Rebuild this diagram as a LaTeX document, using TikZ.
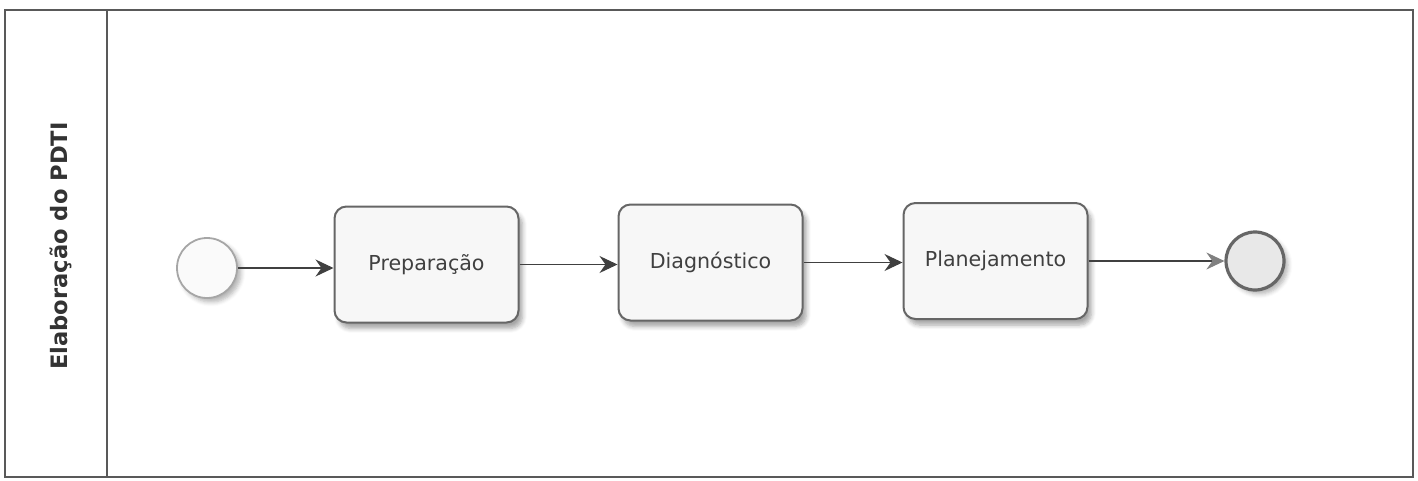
\documentclass[tikz,border=0pt]{standalone}
\usepackage{fontspec}
\setmainfont{DejaVu Sans}
\usetikzlibrary{arrows.meta, shadows.blur, positioning}

\begin{document}
\begin{tikzpicture}[x=0.5pt, y=-0.5pt, font=\fontsize{10.3}{12}\selectfont]
    \tikzstyle{task} = [rectangle, draw=black!60, line width=1pt, fill=black!3, minimum width=92pt, minimum height=58pt, rounded corners=6pt, text=black!75, blur shadow={shadow xshift=2pt, shadow yshift=-3pt, shadow blur steps=6, shadow opacity=35}]
    \tikzstyle{startev} = [circle, draw=black!35, line width=0.9pt, fill=black!2, minimum size=30pt, inner sep=0pt, blur shadow={shadow xshift=2pt, shadow yshift=-2pt, shadow blur steps=5, shadow opacity=30}]
    \tikzstyle{endev} = [circle, draw=black!60, line width=1.6pt, fill=black!9, minimum size=29pt, inner sep=0pt, blur shadow={shadow xshift=2pt, shadow yshift=-2pt, shadow blur steps=5, shadow opacity=30}]
    \tikzstyle{line} = [draw, black!75, line width=0.55pt, -{Stealth[length=9pt, width=8.5pt, inset=3pt]}]

    \useasboundingbox (0,0) rectangle (1418,481);

    % pool and lane
    \draw [black!65, line width=0.7pt] (5,10) rectangle (1413,477);
    \draw [black!65, line width=0.7pt] (107,10) -- (107,477);
    \node [rotate=90, font=\fontsize{11.3}{13}\selectfont\bfseries, text=black!80] (lane) at (61,246) {Elaboração do PDTI};

    \node [startev] (start) at (207,268) {};
    \node [task] (prep) at (426.5,264.5) {Preparação};
    \node [task] (diag) at (710.5,262.5) {Diagnóstico};
    \node [task] (plan) at (995.5,261) {Planejamento};
    \node [endev] (end) at (1255,261) {};

    \path [line] (start) -- (start -| prep.west);
    \path [line] (prep) -- (prep -| diag.west);
    \path [line] (diag) -- (diag -| plan.west);
    \path [line, -{Stealth[length=9pt, width=8.5pt, inset=3pt, black!50]}] (plan) -- (plan -| end.west);
\end{tikzpicture}
\end{document}
